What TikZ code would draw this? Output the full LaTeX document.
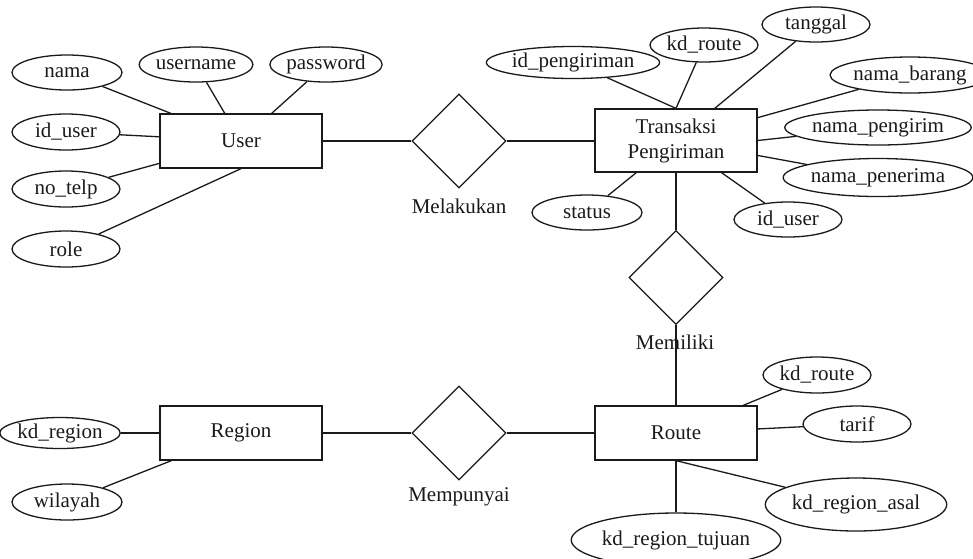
\documentclass[tikz,border=0pt]{standalone}
\usepackage{fontspec}
\setmainfont{Liberation Serif}
\usetikzlibrary{shapes.geometric}
\definecolor{ink}{HTML}{1A1A1A}
\tikzset{
  every node/.style={font=\fontsize{21}{25}\selectfont, text=ink},
  ent/.style={draw=ink, line width=1.3pt, rectangle, minimum width=162pt, minimum height=54pt, inner sep=0pt, align=center},
  attr/.style 2 args={draw=ink, line width=1.3pt, ellipse, inner sep=0pt, minimum width=#1pt, minimum height=#2pt},
  rel/.style={draw=ink, line width=1.3pt, diamond, minimum width=94pt, minimum height=94pt, inner sep=0pt},
  conn/.style={draw=ink, line width=1.3pt},
  lbl/.style={inner sep=0pt}
}
\begin{document}
\begin{tikzpicture}[x=1pt,y=-1pt]
\clip (0,0) rectangle (973,558);
\useasboundingbox (0,0) rectangle (973,558);
% entities
\node[ent] (user) at (241,141) {User};
\node[ent, minimum height=63pt] (trans) at (676,140.5) {Transaksi\\Pengiriman};
\node[ent] (route) at (676,433) {Route};
\node[ent] (region) at (241,433) {Region};
% relationships
\node[rel] (melakukan) at (459,141) {};
\node[rel] (memiliki) at (676,277.5) {};
\node[rel] (mempunyai) at (459,433) {};
\node[lbl] (lmelakukan) at (459,206) {Melakukan};
\node[lbl] (lmemiliki) at (675,342) {Memiliki};
\node[lbl] (lmempunyai) at (459,497) {Mempunyai};
% user attributes
\node[attr={110}{35}] (nama) at (67,72.5) {nama};
\node[attr={108}{35}] (username) at (196,64.5) {username};
\node[attr={108}{35}] (password) at (326,64.5) {password};
\node[attr={108}{36}] (iduser) at (66,132) {id\_user};
\node[attr={108}{36}] (notelp) at (66,189) {no\_telp};
\node[attr={108}{36}] (role) at (66,249) {role};
% transaksi attributes
\node[attr={162}{32}] (idpeng) at (573,62.5) {id\_pengiriman};
\node[attr={108}{34}] (kdroute) at (704,45) {kd\_route};
\node[attr={108}{35}] (tanggal) at (816,24.5) {tanggal};
\node[attr={136}{36}] (namabarang) at (910,75) {nama\_barang};
\node[attr={162}{35}] (namapengirim) at (878,127.5) {nama\_pengirim};
\node[attr={162}{38}] (namapenerima) at (878,177.5) {nama\_penerima};
\node[attr={110}{35}] (status) at (587,212.5) {status};
\node[attr={108}{35}] (iduserb) at (788,219.5) {id\_user};
% route attributes
\node[attr={108}{36}] (kdrouteb) at (817,375) {kd\_route};
\node[attr={108}{36}] (tarif) at (857,424) {tarif};
\node[attr={162}{53}] (asal) at (856,504.5) {kd\_region\_asal};
\node[attr={162}{54}] (tujuan) at (676,540) {kd\_region\_tujuan};
% region attributes
\node[attr={116}{31}] (kdregion) at (60,433) {kd\_region};
\node[attr={110}{36}] (wilayah) at (67,502) {wilayah};
% relationship connectors
\draw[conn] (user) -- (melakukan);
\draw[conn] (melakukan) -- (trans.west |- melakukan);
\draw[conn] (trans) -- (memiliki);
\draw[conn] (memiliki) -- (route);
\draw[conn] (region) -- (mempunyai);
\draw[conn] (mempunyai) -- (route);
% user attribute connectors
\draw[conn] (nama) -- (user);
\draw[conn] (username) -- (user);
\draw[conn] (password) -- (user);
\draw[conn] (iduser) -- (user);
\draw[conn] (notelp) -- (user);
\draw[conn] (role) -- (user.south);
% transaksi attribute connectors
\draw[conn] (idpeng) -- (trans.north);
\draw[conn] (kdroute) -- (trans.north);
\draw[conn] (tanggal) -- (trans);
\draw[conn] (namabarang) -- (trans);
\draw[conn] (namapengirim) -- (trans.east);
\draw[conn] (namapenerima) -- (trans);
\draw[conn] (status) -- (trans);
\draw[conn] (iduserb) -- (trans);
% route attribute connectors
\draw[conn] (kdrouteb) -- (route);
\draw[conn] (tarif) -- (route);
\draw[conn] (asal) -- (route.south);
\draw[conn] (tujuan) -- (route);
% region attribute connectors
\draw[conn] (kdregion) -- (region);
\draw[conn] (wilayah) -- (region);
\end{tikzpicture}
\end{document}
